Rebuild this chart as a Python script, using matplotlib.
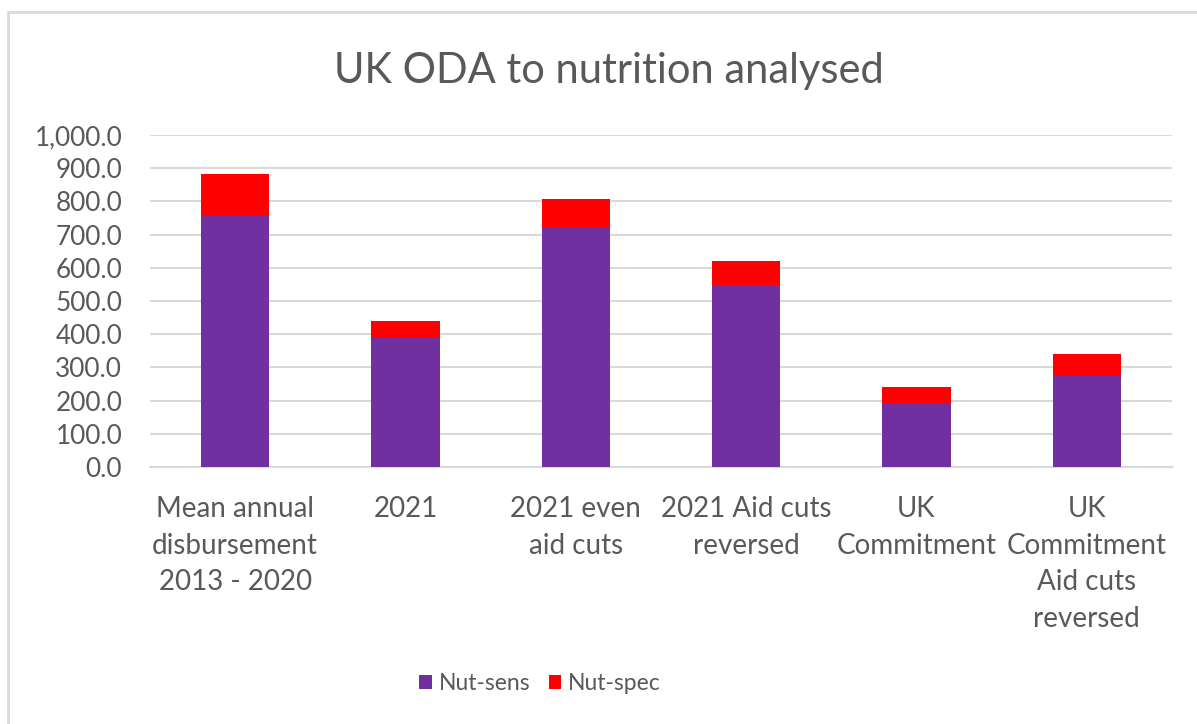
import matplotlib.pyplot as plt
from matplotlib.patches import Rectangle

categories = [
    "Mean annual\ndisbursement\n2013 - 2020",
    "2021",
    "2021 even\naid cuts",
    "2021 Aid cuts\nreversed",
    "UK\nCommitment",
    "UK\nCommitment\nAid cuts\nreversed",
]
nut_sens = [758, 389, 720, 549, 192, 274]
nut_spec = [126, 52, 88, 70, 48, 67]
y_ticks = [0, 100, 200, 300, 400, 500, 600, 700, 800, 900, 1000]

plt.rcParams["font.family"] = ["Lato", "DejaVu Sans"]
text_col = "#595959"
grid_col = "#d9d9d9"

fig = plt.figure(figsize=(11.97, 7.24), dpi=100)
# chart area border (cropped on the right / bottom)
fig.patches.append(Rectangle((8 / 1197, -0.1), 1.2, (724 - 12) / 724 + 0.1,
                             transform=fig.transFigure, fill=False,
                             edgecolor=grid_col, linewidth=2))

ax = fig.add_axes([150 / 1197, 257 / 724, 1022 / 1197, 332 / 724])
x = range(len(categories))
ax.bar(x, nut_sens, width=0.4, color="#7030a0", label="Nut-sens", zorder=3)
ax.bar(x, nut_spec, width=0.4, bottom=nut_sens, color="#ff0000",
       label="Nut-spec", zorder=3)

ax.set_xlim(-0.5, len(categories) - 0.5)
ax.set_ylim(0, 1000)
ax.set_yticks(y_ticks)
ax.set_yticklabels([f"{v:,.1f}" for v in y_ticks])
ax.set_xticks(list(x))
ax.set_xticklabels(categories, linespacing=1.5)
ax.tick_params(axis="both", length=0, colors=text_col)
ax.tick_params(axis="x", pad=21, labelsize=20)
ax.tick_params(axis="y", pad=20, labelsize=18.8)
ax.grid(axis="y", color=grid_col, linewidth=1.5, zorder=0)
for s in ["top", "right", "left"]:
    ax.spines[s].set_visible(False)
ax.spines["bottom"].set_color(grid_col)
ax.spines["bottom"].set_linewidth(1.5)

fig.text(609 / 1197, 1 - 71 / 724, "UK ODA to nutrition analysed",
         ha="center", va="center", fontsize=30, color=text_col)

fig.legend(loc="center", bbox_to_anchor=(540 / 1197, 1 - 684 / 724), ncol=2,
           frameon=False, fontsize=16.5, labelcolor=text_col,
           handlelength=0.55, handleheight=0.55, handletextpad=0.3,
           columnspacing=0.8)

fig.savefig("out.png", dpi=100)
